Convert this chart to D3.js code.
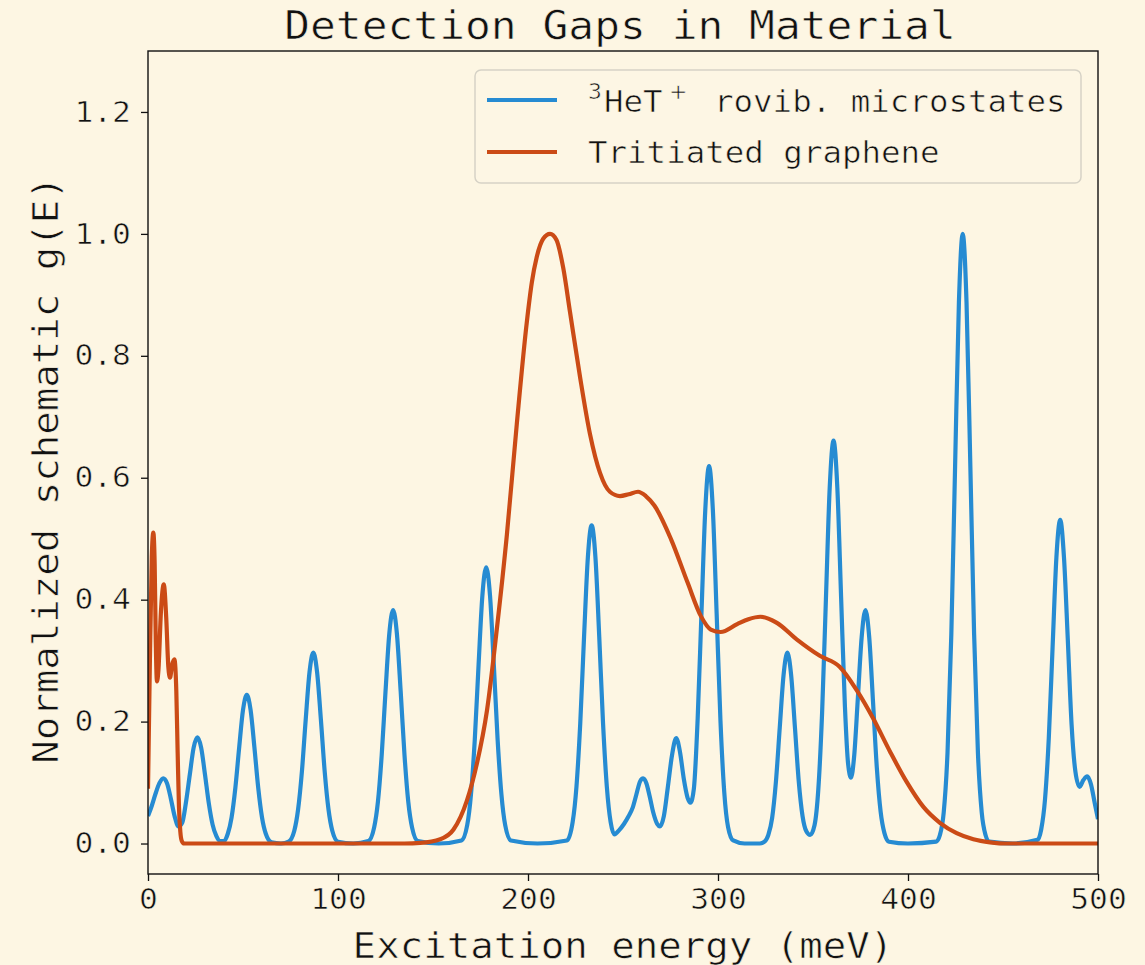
<!DOCTYPE html>
<html>
<head>
<meta charset="utf-8">
<script src="https://cdn.jsdelivr.net/npm/d3@7"></script>
<style>
  body { margin: 0; background: #fdf6e3; }
  text { font-family: "DejaVu Sans Mono", monospace; fill: #111; stroke: #fdf6e3; stroke-width: 0.6px; }
</style>
</head>
<body>
<div class="chart"></div>
<script>
// values: [energy meV, normalized g(E)]
var heTPoints = [
  [0,0.045],[2,0.062],[4,0.082],[6,0.099],[8,0.107],[10,0.099],[12,0.074],[14,0.045],[16,0.028],[18,0.034],
  [20,0.068],[22,0.113],[24,0.157],[26,0.174],[28,0.157],[30,0.113],[32,0.066],[34,0.031],[36,0.012],[38,0.004],
  [40,0.004],[42,0.016],[44,0.043],[46,0.092],[48,0.158],[50,0.219],[52,0.244],[54,0.219],[56,0.158],[58,0.092],
  [60,0.043],[62,0.016],[65,0.002],[70,0],
  [74,0.003],[77,0.021],[79,0.056],[81,0.118],[83,0.203],[85,0.281],[87,0.313],[89,0.281],[91,0.203],[93,0.118],
  [95,0.056],[97,0.021],[100,0.003],[108,0],
  [116,0.004],[119,0.026],[121,0.068],[123,0.145],[125,0.249],[127,0.344],[129,0.383],[131,0.344],[133,0.249],
  [135,0.145],[137,0.068],[139,0.026],[142,0.004],[153,0],
  [165,0.005],[168,0.030],[170,0.081],[172,0.171],[174,0.294],[176,0.407],[178,0.453],[180,0.407],[182,0.294],
  [184,0.171],[186,0.081],[188,0.030],[191,0.005],[205,0],
  [220.5,0.005],[223.5,0.035],[225.5,0.093],[227.5,0.197],[229.5,0.339],[231.5,0.469],[233.5,0.522],[235.5,0.469],
  [237.5,0.339],[239.5,0.197],[241.5,0.093],[243.5,0.035],[245.5,0.015],
  [248,0.022],[250.5,0.032],[253,0.045],[255,0.058],[257,0.080],[259,0.102],[260.6,0.107],[262.3,0.099],[264,0.078],
  [266,0.050],[268,0.032],[269.4,0.028],[271.5,0.045],[273.5,0.090],[275.8,0.145],[278,0.173],[280,0.150],[282,0.106],
  [284,0.075],[285.5,0.067],[287.3,0.090],[289.3,0.205],[291.3,0.378],[293.3,0.547],[295.3,0.619],[297.3,0.547],
  [299.3,0.376],[301.3,0.201],[303.3,0.084],[305.3,0.027],[308,0.005],[314,0],[322,0],
  [324.5,0.003],[326.5,0.014],[328.5,0.042],[330.5,0.102],[332.5,0.190],[334.5,0.276],[336.5,0.313],[338.5,0.276],
  [340.5,0.190],[342.5,0.102],[344.5,0.045],[346.5,0.020],[348.5,0.014],[350.8,0.030],[352.8,0.089],[354.8,0.215],
  [356.8,0.401],[358.8,0.584],[360.8,0.661],[362.8,0.584],[364.8,0.403],[366.8,0.225],[368.5,0.130],[370,0.108],
  [371.6,0.141],[373.6,0.238],[375.6,0.338],[377.6,0.383],[379.6,0.338],[381.6,0.232],[383.6,0.124],[385.6,0.052],
  [387.6,0.017],[390,0.003],[400,0],
  [414.8,0.003],[416.8,0.014],[418.8,0.051],[420.8,0.149],[422.8,0.343],[424.8,0.621],[426.8,0.888],[428.8,1.0],
  [430.8,0.888],[432.8,0.621],[434.8,0.343],[436.8,0.149],[438.8,0.051],[440.8,0.014],[442.8,0.003],[455,0],
  [468.1,0.006],[470.1,0.023],[472.1,0.072],[474.1,0.173],[476.1,0.322],[478.1,0.469],[480.1,0.531],[482.1,0.469],
  [484.1,0.335],[486.1,0.195],[488.1,0.118],[490.3,0.093],[492.3,0.104],[494.3,0.110],[496.3,0.097],[498.3,0.066],
  [500,0.040]
];

var graphenePoints = [
  [0,0.09],[1,0.30],[2,0.47],[2.8,0.51],[3.5,0.46],[4.1,0.33],[4.7,0.266],[5.5,0.285],[6.8,0.38],[8.3,0.425],
  [9.6,0.37],[10.7,0.29],[11.6,0.272],[12.6,0.292],[13.9,0.302],[14.9,0.25],[15.6,0.15],[16.3,0.06],[17,0.02],
  [17.8,0.004],[19,0],[60,0],[100,0],[135,0],
  [143.3,0.001],[153.8,0.007],[160.8,0.023],[167.8,0.07],[173.1,0.131],[178.4,0.218],[183.6,0.352],[188.9,0.507],
  [194.1,0.688],[199.4,0.856],[202,0.92],[204.6,0.962],[208,0.992],[211.6,1.0],[215,0.99],[218.5,0.945],
  [222.1,0.872],[227.4,0.765],[232.6,0.672],[237.9,0.608],[243.1,0.577],[248.4,0.570],[253,0.573],[257.9,0.577],
  [262,0.570],[266.6,0.554],[275.3,0.499],[284,0.428],[291,0.373],[296.2,0.351],[301.4,0.347],[310.1,0.36],[316,0.368],
  [322.3,0.372],[331,0.362],[341.4,0.335],[353.6,0.308],[364,0.29],[372.9,0.252],[381.7,0.205],[390.5,0.151],
  [399.3,0.101],[408.1,0.060],[416.8,0.034],[425.6,0.017],[434.4,0.007],[443.2,0.002],[452,0],[500,0]
];

var xTicks = [0, 100, 200, 300, 400, 500];
var yTicks = [0, 0.2, 0.4, 0.6, 0.8, 1.0, 1.2];
var seriesNames = ["rovib. microstates", "Tritiated graphene"];
var seriesColors = ["#268bd2", "#cb4b16"];

var svgWidth = 1145;
var svgHeight = 965;
var margin = { top: 51, right: 47, bottom: 91, left: 148 };
var width = svgWidth - margin.left - margin.right;
var height = svgHeight - margin.top - margin.bottom;
var stretchK = 1.1;

// the reference font is wider than DejaVu Sans Mono, so widen the glyphs a bit
function stretch(sel) {
  sel.each(function() {
    var w = this.getComputedTextLength();
    d3.select(this).attr("textLength", w * stretchK).attr("lengthAdjust", "spacingAndGlyphs");
  });
}

var svg = d3.select(".chart")
  .append("svg")
  .attr("width", svgWidth)
  .attr("height", svgHeight);

svg.append("rect")
  .attr("width", svgWidth)
  .attr("height", svgHeight)
  .attr("fill", "#fdf6e3");

var chart = svg.append("g")
  .attr("transform", "translate(" + margin.left + "," + margin.top + ")");

var xScale = d3.scaleLinear().domain([0, 500]).range([0, width]);
var yScale = d3.scaleLinear().domain([-0.05, 1.3]).range([height, 0]);

chart.append("clipPath")
  .attr("id", "plotclip")
  .append("rect")
  .attr("width", width)
  .attr("height", height);

var line = d3.line()
  .x(function(d) { return xScale(d[0]); })
  .y(function(d) { return yScale(d[1]); })
  .curve(d3.curveMonotoneX);

var plot = chart.append("g").attr("clip-path", "url(#plotclip)");

[heTPoints, graphenePoints].forEach(function(pts, i) {
  plot.append("path")
    .datum(pts)
    .attr("d", line)
    .attr("fill", "none")
    .attr("stroke", seriesColors[i])
    .attr("stroke-width", 4.2)
    .attr("stroke-linejoin", "round");
});

// axes
var bottomAxis = d3.axisBottom(xScale).tickValues(xTicks).tickSize(7).tickPadding(8)
  .tickFormat(d3.format("d"));
var leftAxis = d3.axisLeft(yScale).tickValues(yTicks).tickSize(7).tickPadding(10)
  .tickFormat(d3.format(".1f"));

var gx = chart.append("g")
  .attr("transform", "translate(0," + height + ")")
  .call(bottomAxis);
var gy = chart.append("g").call(leftAxis);

[gx, gy].forEach(function(g) {
  g.select(".domain").remove();
  g.selectAll(".tick line").attr("stroke", "#111").attr("stroke-width", 1.3);
  g.selectAll(".tick text")
    .attr("fill", "#111")
    .style("font-family", "'DejaVu Sans Mono', monospace")
    .style("font-size", "28.5px")
    .call(stretch);
});

chart.append("rect")
  .attr("width", width)
  .attr("height", height)
  .attr("fill", "none")
  .attr("stroke", "#111")
  .attr("stroke-width", 1.4);

// title and axis labels
svg.append("text")
  .attr("x", 620)
  .attr("y", 39)
  .attr("text-anchor", "middle")
  .style("font-size", "39px")
  .text("Detection Gaps in Material")
  .call(stretch);

svg.append("text")
  .attr("x", margin.left + width / 2)
  .attr("y", 958)
  .attr("text-anchor", "middle")
  .style("font-size", "35.5px")
  .text("Excitation energy (meV)")
  .call(stretch);

svg.append("text")
  .attr("transform", "translate(58," + 470 + ") rotate(-90)")
  .attr("text-anchor", "middle")
  .style("font-size", "35.5px")
  .text("Normalized schematic g(E)")
  .call(stretch);

// legend
var legend = svg.append("g");
legend.append("rect")
  .attr("x", 475)
  .attr("y", 70)
  .attr("width", 606)
  .attr("height", 113)
  .attr("rx", 6)
  .attr("fill", "#fdf6e3")
  .attr("fill-opacity", 0.8)
  .attr("stroke", "#d6d2c6")
  .attr("stroke-width", 1.5);

[100, 152].forEach(function(ly, i) {
  legend.append("line")
    .attr("x1", 487).attr("x2", 557)
    .attr("y1", ly).attr("y2", ly)
    .attr("stroke", seriesColors[i])
    .attr("stroke-width", 4.2);
});

legend.append("text").attr("x", 588).attr("y", 99).style("font-size", "21px").text("3").call(stretch);
legend.append("text").attr("x", 604).attr("y", 112).style("font-size", "29.5px").text("HeT").call(stretch);
legend.append("text").attr("x", 669).attr("y", 99).style("font-size", "22px")
  .style("font-family", "'DejaVu Sans', sans-serif").text("+");
legend.append("text").attr("x", 714).attr("y", 112).style("font-size", "29.5px").text(seriesNames[0]).call(stretch);
legend.append("text").attr("x", 588).attr("y", 163).style("font-size", "29.5px").text(seriesNames[1]).call(stretch);
</script>
</body>
</html>
